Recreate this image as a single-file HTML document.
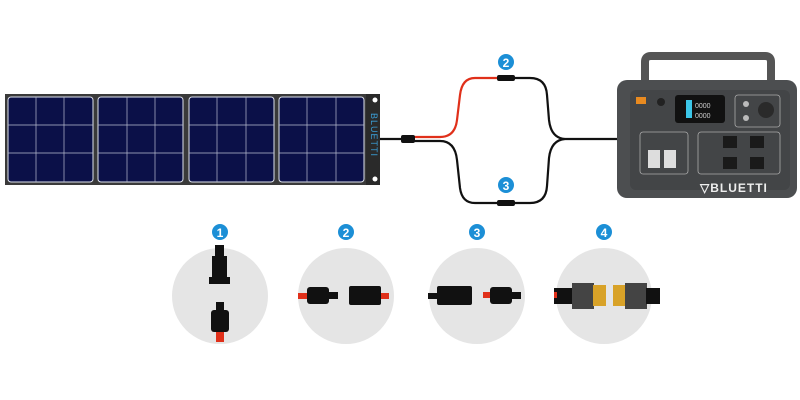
<!DOCTYPE html>
<html><head><style>
html,body{margin:0;padding:0;background:#fff;width:800px;height:400px;overflow:hidden}
svg{display:block}
text{font-family:"Liberation Sans",sans-serif}
</style></head><body>
<svg width="800" height="400" viewBox="0 0 800 400" xmlns="http://www.w3.org/2000/svg">
<!-- solar panel -->
<rect x="5" y="94" width="375" height="91" fill="#3a3a3a"/>
<g fill="#0b1048" stroke="#dfe3ee" stroke-width="1">
<rect x="8" y="97" width="85" height="85" rx="3"/>
<rect x="98" y="97" width="85" height="85" rx="3"/>
<rect x="189" y="97" width="85" height="85" rx="3"/>
<rect x="279" y="97" width="85" height="85" rx="3"/>
</g>
<g stroke="#b8bdd0" stroke-width="0.7">
<path d="M36 97V182M64 97V182M127 97V182M155 97V182M217 97V182M246 97V182M307 97V182M336 97V182"/>
<path d="M8 125H93M8 153H93M98 125H183M98 153H183M189 125H274M189 153H274M279 125H364M279 153H364"/>
</g>
<rect x="366" y="94" width="14" height="91" fill="#2a2a2a"/>
<circle cx="375" cy="100" r="2.5" fill="#fff"/><circle cx="375" cy="179" r="2.5" fill="#fff"/>
<text x="0" y="0" transform="translate(371,113) rotate(90)" font-size="9" fill="#3a9fd8" letter-spacing="1">BLUETTI</text>
<!-- cables -->
<g fill="none" stroke-width="2.2">
<path d="M380 139H402" stroke="#111"/>
<path d="M414 137H440Q455 137 457 120L460 95Q462 78 475 78H498" stroke="#e0301a"/>
<path d="M414 141H440Q455 141 457 160L460 188Q462 203 475 203H498" stroke="#111"/>
<path d="M514 78H530Q546 78 547 95L549 120Q551 138 565 139M514 203H530Q546 203 547 186L549 158Q551 140 565 139H645Q650 139 650 132V108" stroke="#111"/>
</g>
<rect x="401" y="135" width="14" height="8" rx="2" fill="#111"/>
<rect x="497" y="75" width="18" height="6" rx="2" fill="#111"/>
<rect x="497" y="200" width="18" height="6" rx="2" fill="#111"/>
<circle cx="506" cy="62" r="8" fill="#1c8fd6"/><text x="506" y="67" font-size="12" font-weight="bold" fill="#fff" text-anchor="middle">2</text>
<circle cx="506" cy="185" r="8" fill="#1c8fd6"/><text x="506" y="190" font-size="12" font-weight="bold" fill="#fff" text-anchor="middle">3</text>
<!-- power station -->
<path d="M645 84V62Q645 56 651 56H765Q771 56 771 62V84" fill="none" stroke="#555" stroke-width="8"/>
<rect x="617" y="80" width="180" height="118" rx="10" fill="#4c4e50"/>
<rect x="630" y="90" width="160" height="100" rx="6" fill="#434547"/>
<rect x="675" y="95" width="50" height="28" rx="3" fill="#111"/>
<rect x="686" y="100" width="6" height="18" fill="#3cc6e8"/>
<text x="695" y="108" font-size="7" fill="#ccc">0000</text><text x="695" y="118" font-size="7" fill="#ccc">0000</text>
<rect x="636" y="97" width="10" height="7" fill="#e88a20"/>
<circle cx="661" cy="102" r="4" fill="#222"/>
<rect x="735" y="95" width="45" height="32" rx="3" fill="none" stroke="#aaa" stroke-width="0.8"/>
<circle cx="766" cy="110" r="8" fill="#2a2a2a"/>
<circle cx="746" cy="104" r="3" fill="#bbb"/><circle cx="746" cy="118" r="3" fill="#bbb"/>
<rect x="640" y="132" width="48" height="42" rx="3" fill="none" stroke="#aaa" stroke-width="0.8"/>
<rect x="648" y="150" width="12" height="18" fill="#ddd"/><rect x="664" y="150" width="12" height="18" fill="#ddd"/>
<rect x="698" y="132" width="82" height="42" rx="3" fill="none" stroke="#aaa" stroke-width="0.8"/>
<g fill="#1a1a1a"><rect x="723" y="136" width="14" height="12"/><rect x="750" y="136" width="14" height="12"/><rect x="723" y="157" width="14" height="12"/><rect x="750" y="157" width="14" height="12"/></g>
<text x="700" y="192" font-size="12" font-weight="bold" fill="#eee" letter-spacing="1">▽BLUETTI</text>
<!-- bottom circles -->
<g fill="#e5e5e5"><circle cx="220" cy="296" r="48"/><circle cx="346" cy="296" r="48"/><circle cx="477" cy="296" r="48"/><circle cx="604" cy="296" r="48"/></g>
<g fill="#1c8fd6"><circle cx="220" cy="232" r="8"/><circle cx="346" cy="232" r="8"/><circle cx="477" cy="232" r="8"/><circle cx="604" cy="232" r="8"/></g>
<g font-size="12" font-weight="bold" fill="#fff" text-anchor="middle"><text x="220" y="237">1</text><text x="346" y="237">2</text><text x="477" y="237">3</text><text x="604" y="237">4</text></g>
<!-- connector 1 -->
<rect x="215" y="245" width="9" height="12" fill="#111"/><rect x="212" y="256" width="15" height="22" fill="#111"/><rect x="209" y="277" width="21" height="7" fill="#111"/>
<rect x="216" y="302" width="8" height="8" fill="#111"/><rect x="211" y="310" width="18" height="22" rx="3" fill="#111"/><rect x="216" y="332" width="8" height="10" fill="#e0301a"/>
<!-- connector 2 -->
<rect x="298" y="293" width="10" height="6" fill="#e0301a"/><rect x="307" y="287" width="22" height="17" rx="3" fill="#111"/><rect x="328" y="292" width="10" height="7" fill="#111"/>
<rect x="349" y="286" width="32" height="19" rx="2" fill="#111"/><rect x="381" y="293" width="8" height="6" fill="#e0301a"/>
<!-- connector 3 -->
<rect x="428" y="293" width="10" height="6" fill="#111"/><rect x="437" y="286" width="35" height="19" rx="2" fill="#111"/>
<rect x="483" y="292" width="8" height="6" fill="#e0301a"/><rect x="490" y="287" width="22" height="17" rx="3" fill="#111"/><rect x="511" y="292" width="10" height="7" fill="#111"/>
<!-- connector 4 -->
<rect x="554" y="288" width="20" height="16" fill="#111"/><rect x="554" y="292" width="3" height="6" fill="#e0301a"/><rect x="572" y="283" width="22" height="26" fill="#444"/><rect x="593" y="285" width="13" height="21" fill="#d8a228"/>
<rect x="613" y="285" width="13" height="21" fill="#d8a228"/><rect x="625" y="283" width="22" height="26" fill="#444"/><rect x="646" y="288" width="14" height="16" fill="#111"/>
</svg>
</body></html>
